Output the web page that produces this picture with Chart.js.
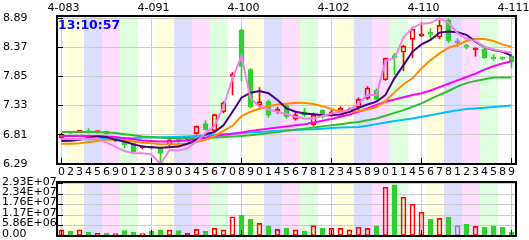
<!DOCTYPE html>
<html>
<head>
<meta charset="utf-8">
<script src="https://cdn.jsdelivr.net/npm/chart.js"></script>
<style>
  html, body { margin: 0; padding: 0; background: #fff; }
  #wrap { position: relative; width: 529px; height: 240px; overflow: hidden; }
  #priceChart { position: absolute; left: 0; top: 0; }
  #volChart { position: absolute; left: 0; top: 170px; }
</style>
</head>
<body>
<div id="wrap">
  <canvas id="priceChart" width="529" height="182"></canvas>
  <canvas id="volChart" width="529" height="70"></canvas>
</div>
<script>
// tick labels
const tickDigits = ['0','2','3','4','5','6','9','0','1','2','3','8','9','0','3','4','5','6','7','0','8','9','0','1','4','5','6','7','8','1','2','3','4','5','8','9','0','1','1','4','5','6','7','8','1','2','3','4','5','8','9'];
const dateLabels = ['4-083', '4-091', '4-100', '4-102', '4-110', '4-111'];
const dateEvery = 10;
const priceTicks = [6.29, 6.81, 7.33, 7.85, 8.37, 8.89];
const volTicks = [0, 5.86e6, 1.17e7, 1.76e7, 2.34e7, 2.93e7];
const volTickLabels = ['0.00', '5.86E+06', '1.17E+07', '1.76E+07', '2.34E+07', '2.93E+07'];
const clockText = '13:10:57';

// candles
const openPrice = [6.76, 6.85, 6.86, 6.87, 6.85, 6.875, 6.70, 6.72, 6.66, 6.58, 6.60, 6.57, 6.63, 6.75, 6.73, 6.83, 7.01, 6.88, 7.22, 7.85, 8.68, 7.97, 7.34, 7.40, 7.22, 7.33, 7.09, 7.22, 6.99, 7.25, 7.16, 7.22, 7.22, 7.30, 7.46, 7.60, 7.79, 8.22, 8.28, 8.51, 8.57, 8.62, 8.55, 8.86, 8.45, 8.39, 8.32, 8.34, 8.18, 8.18, 8.21];
const highPrice = [6.84, 6.87, 6.89, 6.92, 6.88, 6.88, 6.74, 6.73, 6.67, 6.61, 6.61, 6.58, 6.74, 6.76, 6.76, 6.97, 7.06, 7.18, 7.40, 7.92, 8.69, 7.99, 7.65, 7.43, 7.30, 7.36, 7.20, 7.28, 7.20, 7.26, 7.25, 7.31, 7.29, 7.47, 7.67, 7.63, 8.18, 8.26, 8.41, 8.71, 8.81, 8.70, 8.85, 8.88, 8.52, 8.42, 8.36, 8.36, 8.24, 8.20, 8.22];
const lowPrice = [6.74, 6.83, 6.85, 6.84, 6.84, 6.82, 6.69, 6.57, 6.49, 6.56, 6.55, 6.30, 6.60, 6.62, 6.72, 6.82, 6.89, 6.86, 7.20, 7.52, 7.77, 7.29, 7.33, 7.12, 7.19, 7.10, 7.07, 7.14, 6.97, 7.10, 7.14, 7.20, 7.20, 7.26, 7.44, 7.40, 7.78, 7.88, 7.95, 8.18, 8.56, 8.50, 8.52, 8.45, 8.38, 8.34, 8.21, 8.17, 8.14, 8.14, 8.00];
const closePrice = [6.82, 6.84, 6.875, 6.85, 6.865, 6.83, 6.72, 6.63, 6.51, 6.59, 6.57, 6.48, 6.72, 6.69, 6.74, 6.96, 6.90, 7.17, 7.38, 7.89, 8.03, 7.31, 7.40, 7.16, 7.27, 7.13, 7.17, 7.16, 7.16, 7.13, 7.22, 7.28, 7.27, 7.44, 7.64, 7.44, 8.17, 8.18, 8.39, 8.69, 8.61, 8.60, 8.76, 8.48, 8.45, 8.37, 8.35, 8.18, 8.16, 8.16, 8.11];
const volume = [3.4e6, 2.8e6, 3.4e6, 2.2e6, 1.5e6, 1.5e6, 1.3e6, 3.0e6, 2.1e6, 1.3e6, 2.8e6, 3.4e6, 3.4e6, 3.0e6, 1.5e6, 3.7e6, 2.8e6, 4.3e6, 3.4e6, 1.08e7, 1.16e7, 9.3e6, 7.1e6, 5.6e6, 3.7e6, 4.3e6, 3.4e6, 2.8e6, 5.8e6, 4.3e6, 4.3e6, 4.3e6, 3.4e6, 4.9e6, 4.3e6, 5.6e6, 2.73e7, 2.86e7, 2.17e7, 1.79e7, 1.33e7, 9.5e6, 9.9e6, 1.05e7, 5.8e6, 6.7e6, 5.4e6, 4.9e6, 5.6e6, 4.9e6, 2.2e6];

// average lines
const maViolet = [6.74, 6.735, 6.73, 6.74, 6.75, 6.67, 6.60, 6.52, 6.48, 6.48, 6.46, 6.29, 6.54, 6.53, 6.57, 6.69, 6.84, 6.97, 7.31, 7.82, 8.21, 7.46, 7.31, 7.26, 7.22, 7.18, 7.13, 7.10, 7.10, 7.145, 7.19, 7.22, 7.25, 7.37, 7.52, 7.52, 8.13, 8.17, 8.54, 8.72, 8.79, 8.80, 8.89, 8.81, 8.62, 8.52, 8.48, 8.37, 8.33, 8.30, 8.28];
const maIndigo = [6.70, 6.705, 6.72, 6.76, 6.78, 6.77, 6.72, 6.69, 6.64, 6.60, 6.59, 6.58, 6.59, 6.60, 6.65, 6.72, 6.82, 6.86, 6.98, 7.22, 7.47, 7.56, 7.59, 7.55, 7.43, 7.28, 7.22, 7.19, 7.175, 7.16, 7.16, 7.17, 7.22, 7.29, 7.35, 7.40, 7.52, 7.82, 8.05, 8.29, 8.42, 8.50, 8.63, 8.65, 8.635, 8.59, 8.47, 8.37, 8.32, 8.29, 8.22];
const maOrange = [6.65, 6.65, 6.66, 6.68, 6.70, 6.72, 6.72, 6.71, 6.69, 6.67, 6.66, 6.64, 6.64, 6.64, 6.65, 6.68, 6.72, 6.79, 6.88, 6.97, 7.145, 7.22, 7.275, 7.32, 7.35, 7.365, 7.38, 7.377, 7.36, 7.32, 7.27, 7.22, 7.22, 7.235, 7.26, 7.305, 7.41, 7.566, 7.71, 7.816, 7.994, 8.137, 8.26, 8.36, 8.41, 8.48, 8.516, 8.516, 8.48, 8.42, 8.38];
const maMagenta = [6.79, 6.79, 6.79, 6.79, 6.79, 6.78, 6.77, 6.75, 6.73, 6.71, 6.70, 6.69, 6.69, 6.70, 6.71, 6.73, 6.76, 6.79, 6.81, 6.83, 6.85, 6.88, 6.90, 6.92, 6.94, 6.96, 6.98, 7.00, 7.03, 7.06, 7.09, 7.13, 7.17, 7.22, 7.28, 7.34, 7.40, 7.44, 7.48, 7.52, 7.55, 7.60, 7.66, 7.72, 7.78, 7.84, 7.90, 7.97, 8.03, 8.08, 8.12];
const maGreen = [6.86, 6.86, 6.86, 6.86, 6.86, 6.85, 6.84, 6.82, 6.80, 6.78, 6.77, 6.76, 6.75, 6.75, 6.75, 6.75, 6.75, 6.76, 6.77, 6.78, 6.79, 6.80, 6.82, 6.84, 6.86, 6.88, 6.90, 6.92, 6.94, 6.96, 6.98, 7.00, 7.02, 7.04, 7.07, 7.10, 7.15, 7.20, 7.25, 7.31, 7.37, 7.45, 7.52, 7.59, 7.67, 7.73, 7.77, 7.80, 7.83, 7.83, 7.83];
const maSky = [6.72, 6.72, 6.73, 6.73, 6.74, 6.74, 6.75, 6.75, 6.75, 6.76, 6.76, 6.76, 6.77, 6.77, 6.78, 6.79, 6.80, 6.81, 6.82, 6.83, 6.84, 6.85, 6.86, 6.87, 6.88, 6.89, 6.90, 6.905, 6.91, 6.92, 6.93, 6.94, 6.945, 6.95, 6.97, 7.00, 7.03, 7.055, 7.08, 7.10, 7.13, 7.16, 7.19, 7.22, 7.245, 7.27, 7.28, 7.29, 7.305, 7.317, 7.33];

const upColor = '#ff0000';
const downColor = '#33cc33';
const flatColor = '#8888a0';
const gridColor = '#cccccc';
const stripeColors = ['#ffffdd', '#ddddff', '#ffddff', '#ddffdd', '#ffffff'];
const labelFont = { family: 'DejaVu Sans', size: 11 };

function candleColor(i) {
    if (closePrice[i] > openPrice[i]) return upColor;
    if (closePrice[i] < openPrice[i]) return downColor;
    return flatColor;
}
function candleFill(i) {
    return closePrice[i] < openPrice[i] ? downColor : 'rgba(0,0,0,0)';
}

const bodies = openPrice.map((o, i) => [o, closePrice[i]]);
const upperWicks = highPrice.map((h, i) => [Math.max(openPrice[i], closePrice[i]), h]);
const lowerWicks = lowPrice.map((l, i) => [l, Math.min(openPrice[i], closePrice[i])]);
const topLabels = tickDigits.map((d, i) => (i % dateEvery === 0 ? dateLabels[i / dateEvery] : ''));

// coloured time bands behind the plot
const stripes = {
    id: 'stripes',
    beforeDraw(chart) {
        const { ctx, chartArea: a, scales: { x } } = chart;
        const w = x.getPixelForValue(1) - x.getPixelForValue(0);
        ctx.save();
        for (let i = 0; i < tickDigits.length; i++) {
            ctx.fillStyle = i === 0 ? '#ffffff' : stripeColors[Math.floor((i - 1) / 2) % 5];
            ctx.fillRect(x.getPixelForValue(i) - w / 2, a.top, w, a.bottom - a.top);
        }
        ctx.restore();
    }
};

// black box + short inward ticks
const frame = {
    id: 'frame',
    afterDraw(chart) {
        const { ctx, chartArea: a, scales: { x, y } } = chart;
        ctx.save();
        ctx.strokeStyle = '#000';
        ctx.lineWidth = 1;
        ctx.beginPath();
        y.ticks.forEach(t => {
            const py = Math.round(y.getPixelForValue(t.value) - 0.5) + 0.5;
            ctx.moveTo(a.left, py);
            ctx.lineTo(a.left + 6, py);
        });
        x.ticks.forEach((t, i) => {
            if (i % dateEvery) return;
            const px = Math.round(x.getPixelForValue(i) - 0.5) + 0.5;
            ctx.moveTo(px, a.bottom);
            ctx.lineTo(px, a.bottom - 6);
        });
        ctx.stroke();
        ctx.lineWidth = 2;
        ctx.strokeRect(a.left, a.top, a.right - a.left, a.bottom - a.top);
        ctx.restore();
    }
};

const clock = {
    id: 'clock',
    afterDatasetsDraw(chart) {
        const { ctx, chartArea: a } = chart;
        ctx.save();
        ctx.font = 'bold 12.5px "DejaVu Sans"';
        ctx.fillStyle = '#0000ff';
        ctx.textBaseline = 'alphabetic';
        ctx.fillText(clockText, a.left + 1, a.top + 12.5);
        ctx.restore();
    }
};

const tenthGrid = c => (c.index % dateEvery === 0 ? gridColor : 'rgba(0,0,0,0)');

const maLine = (data, color) => ({
    type: 'line', data, borderColor: color, borderWidth: 2,
    pointRadius: 0, tension: 0, fill: false
});

new Chart(document.getElementById('priceChart'), {
    type: 'bar',
    data: {
        labels: tickDigits,
        datasets: [
            maLine(maViolet, '#ee82ee'),
            maLine(maIndigo, '#4b0082'),
            maLine(maOrange, '#ff8c00'),
            maLine(maMagenta, '#ff00ff'),
            maLine(maGreen, '#33bb33'),
            maLine(maSky, '#00bfff'),
            {
                data: bodies, grouped: false, barThickness: 5, minBarLength: 2,
                borderWidth: 1, borderSkipped: false,
                backgroundColor: c => candleFill(c.dataIndex),
                borderColor: c => candleColor(c.dataIndex)
            },
            { data: upperWicks, grouped: false, barThickness: 1, backgroundColor: c => candleColor(c.dataIndex) },
            { data: lowerWicks, grouped: false, barThickness: 1, backgroundColor: c => candleColor(c.dataIndex) }
        ]
    },
    options: {
        responsive: false,
        animation: false,
        events: [],
        layout: { padding: { left: 3, right: 13, top: 0, bottom: 0 } },
        plugins: { legend: { display: false }, tooltip: { enabled: false } },
        scales: {
            x: {
                offset: true,
                grid: { offset: false, drawTicks: false, color: tenthGrid },
                border: { display: false },
                ticks: { autoSkip: false, maxRotation: 0, padding: 2, color: '#000', font: labelFont },
                afterFit: s => { s.height = 18; }
            },
            x2: {
                type: 'category',
                position: 'top',
                labels: topLabels,
                offset: true,
                grid: { display: false, drawTicks: false },
                border: { display: false },
                ticks: { autoSkip: false, maxRotation: 0, padding: 1, labelOffset: 2, color: '#000', font: labelFont },
                afterFit: s => { s.height = 16; s.paddingLeft = 0; s.paddingRight = 0; }
            },
            y: {
                min: 6.29,
                max: 8.926,
                grid: { color: gridColor, drawTicks: false },
                border: { display: false },
                afterBuildTicks: s => { s.ticks = priceTicks.map(v => ({ value: v })); },
                afterFit: s => { s.width = 54; },
                ticks: { autoSkip: false, crossAlign: 'far', color: '#000', font: labelFont, callback: v => v.toFixed(2) }
            }
        }
    },
    plugins: [stripes, frame, clock]
});

new Chart(document.getElementById('volChart'), {
    type: 'bar',
    data: {
        labels: tickDigits,
        datasets: [{
            data: volume, grouped: false, barThickness: 5,
            borderWidth: 1, borderSkipped: false,
            backgroundColor: c => candleFill(c.dataIndex),
            borderColor: c => candleColor(c.dataIndex)
        }]
    },
    options: {
        responsive: false,
        animation: false,
        events: [],
        layout: { padding: { left: 2, right: 13, top: 12, bottom: 0 } },
        plugins: { legend: { display: false }, tooltip: { enabled: false } },
        scales: {
            x: {
                offset: true,
                grid: { offset: false, drawTicks: false, color: tenthGrid },
                border: { display: false },
                ticks: { display: false },
                afterFit: s => { s.height = 4; }
            },
            y: {
                min: 0,
                max: 3.025e7,
                grid: { color: gridColor, drawTicks: false },
                border: { display: false },
                afterBuildTicks: s => { s.ticks = volTicks.map(v => ({ value: v })); },
                afterFit: s => { s.width = 55; s.paddingTop = 0; s.paddingBottom = 0; },
                ticks: { autoSkip: false, crossAlign: 'far', labelOffset: -2, color: '#000', font: labelFont,
                         callback: (v, i) => volTickLabels[i] }
            }
        }
    },
    plugins: [stripes, frame]
});
</script>
</body>
</html>
